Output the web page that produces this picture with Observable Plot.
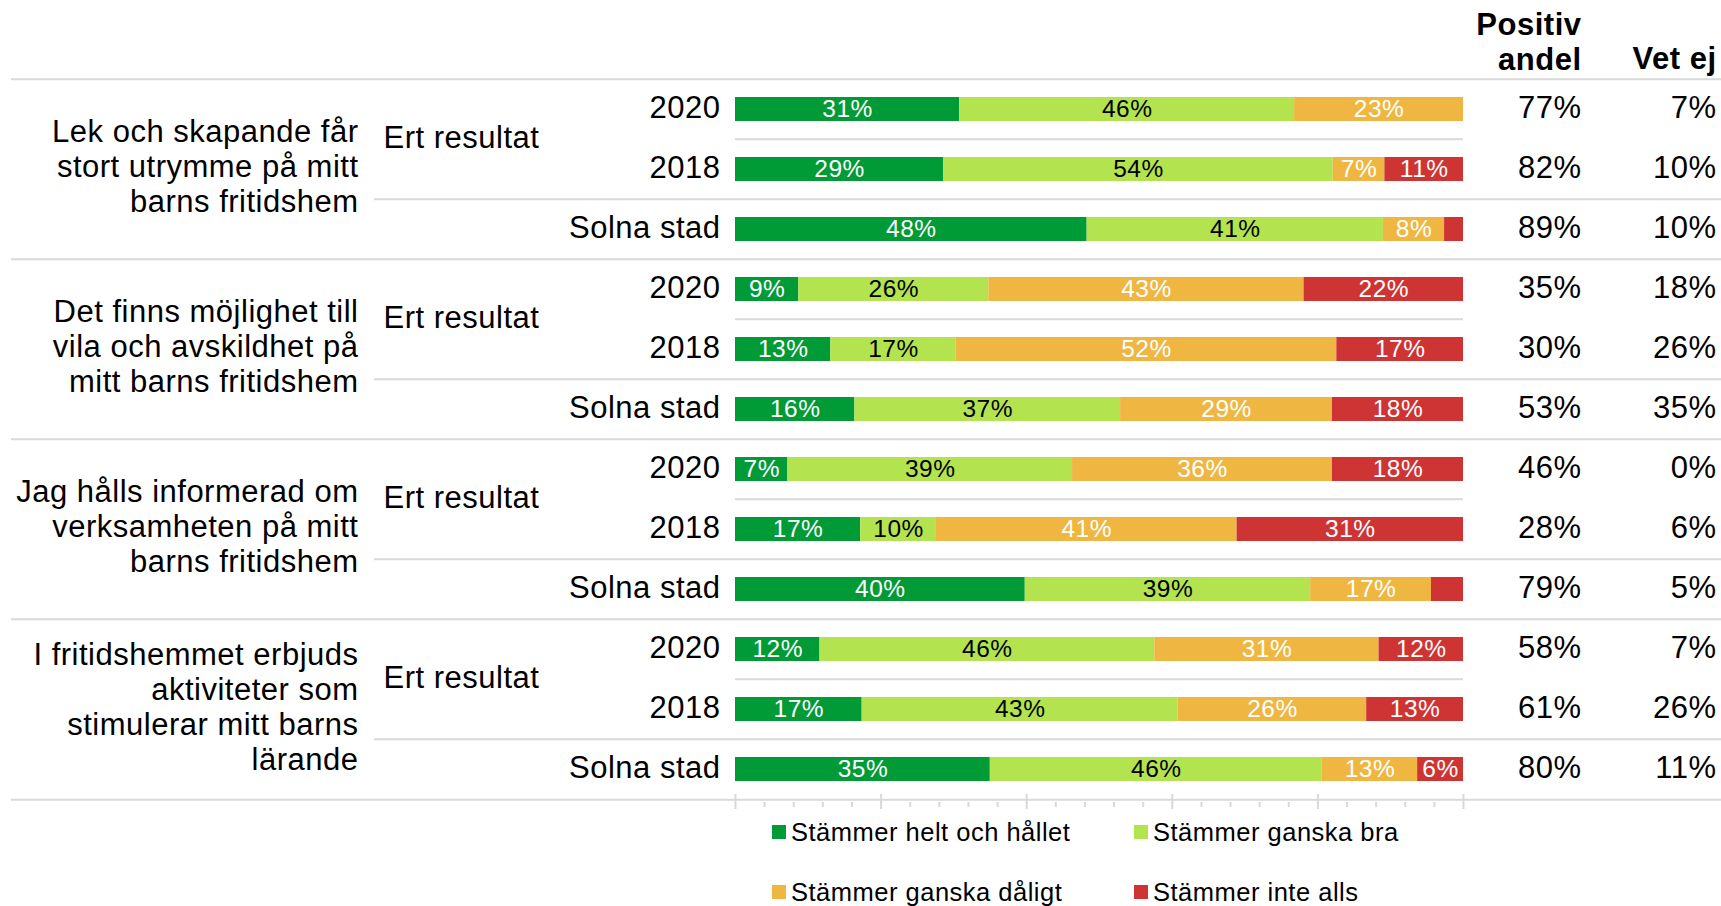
<!DOCTYPE html>
<html>
<head>
<meta charset="utf-8">
<script src="https://cdn.jsdelivr.net/npm/d3@7"></script>
<script src="https://cdn.jsdelivr.net/npm/@observablehq/plot@0.6"></script>
<style>
  body { margin: 0; background: #fff; font-family: "Liberation Sans", Arial, sans-serif; }
  #legend { position: relative; width: 1721px; height: 90px; }
  .item { position: absolute; display: flex; align-items: center; height: 30px; font-size: 25.5px; letter-spacing: 0.5px; color: #000; white-space: nowrap; }
  .sw { width: 14px; height: 14px; margin-right: 5px; }
  #chart svg text { letter-spacing: 0.5px; }
</style>
</head>
<body>
<div id="chart"></div>
<div id="legend"></div>
<script>
// ---- data ----
const questions = [
  "Lek och skapande får\nstort utrymme på mitt\nbarns fritidshem",
  "Det finns möjlighet till\nvila och avskildhet på\nmitt barns fritidshem",
  "Jag hålls informerad om\nverksamheten på mitt\nbarns fritidshem",
  "I fritidshemmet erbjuds\naktiviteter som\nstimulerar mitt barns\nlärande"
];
const groupLabel = "Ert resultat";
const seriesLabels = ["2020", "2018", "Solna stad"];
const categories = ["Stämmer helt och hållet", "Stämmer ganska bra", "Stämmer ganska dåligt", "Stämmer inte alls"];
const colors = ["#009A37", "#B3E44F", "#EFB641", "#CE3433"];
const headers = ["Positiv\nandel", "Vet ej"];

// values per row (question × series), in percent
const helt   = [30.8, 28.6, 48.3,   8.7, 13.1, 16.4,   7.2, 17.2, 39.8,  11.6, 17.4, 35.0];
const ganska = [46.0, 53.5, 40.7,  26.1, 17.2, 36.5,  39.1, 10.4, 39.2,  46.0, 43.4, 45.6];
const daligt = [23.2,  7.1,  8.4,  43.3, 52.3, 29.1,  35.7, 41.3, 16.6,  30.8, 25.9, 13.1];
const inte   = [ 0.0, 10.8,  2.6,  21.9, 17.4, 18.0,  18.0, 31.1,  4.4,  11.6, 13.3,  6.3];
const positiv = [77, 82, 89, 35, 30, 53, 46, 28, 79, 58, 61, 80];
const vetEj   = [7, 10, 10, 18, 26, 35, 0, 6, 5, 7, 26, 11];

// ---- build tables ----
const series = [helt, ganska, daligt, inte];
const rows = d3.range(questions.length * seriesLabels.length).map(i => ({row: i}));
const stacked = rows.flatMap(r => categories.map((c, k) => ({row: r.row, cat: c, value: series[k][r.row]})));

const W = 1721, H = 816, mT = 76, mB = 14, mL = 735, mR = 258;
const bw = (H - mT - mB) / rows.length;
const grid = "#d9d9d9";
const font = "'Liberation Sans', Arial, sans-serif";
const tdy = -1.5;

const chart = Plot.plot({
  width: W, height: H,
  marginTop: mT, marginBottom: mB, marginLeft: mL, marginRight: mR,
  style: {fontFamily: font, fontSize: "31px", color: "#000", background: "#fff"},
  x: {domain: [0, 100], axis: null},
  y: {type: "band", domain: rows.map(r => r.row), padding: 0, axis: null},
  color: {domain: categories, range: colors},
  marks: [
    // group separators (full width)
    Plot.ruleY(rows.filter(r => r.row % 3 === 0), {y: "row", dy: -bw / 2, stroke: grid, strokeWidth: 2, insetLeft: -(mL - 11), insetRight: -mR}),
    Plot.ruleY(rows.slice(-1), {y: "row", dy: bw / 2, stroke: grid, strokeWidth: 2, insetLeft: -(mL - 11), insetRight: -mR}),
    // separator above city row
    Plot.ruleY(rows.filter(r => r.row % 3 === 2), {y: "row", dy: -bw / 2, stroke: grid, strokeWidth: 2, insetLeft: -(mL - 374), insetRight: -mR}),
    // separator between years
    Plot.ruleY(rows.filter(r => r.row % 3 === 1), {y: "row", dy: -bw / 2, stroke: grid, strokeWidth: 2}),
    // ticks
    Plot.axisX(d3.range(0, 101, 4).filter(v => v % 20 !== 0), {anchor: "bottom", label: null, tickSize: 5, tickFormat: () => "", stroke: grid, strokeWidth: 2}),
    Plot.axisX(d3.range(0, 101, 20), {anchor: "bottom", label: null, tickSize: 15, dy: -8, tickFormat: () => "", stroke: grid, strokeWidth: 2}),
    // bars
    Plot.barX(stacked, {x: "value", y: "row", fill: "cat", insetTop: 18, insetBottom: 18}),
    Plot.text(stacked, Plot.stackX({x: "value", y: "row", z: "cat",
      text: d => d.cat !== categories[1] && d.value >= 5 ? Math.round(d.value) + "%" : "",
      fill: "white", fontSize: 24.5, dy: -0.5})),
    Plot.text(stacked, Plot.stackX({x: "value", y: "row", z: "cat",
      text: d => d.cat === categories[1] && d.value >= 5 ? Math.round(d.value) + "%" : "",
      fill: "black", fontSize: 24.5, dy: -0.5})),
    // row labels
    Plot.text(rows, {y: "row", text: d => seriesLabels[d.row % 3], frameAnchor: "left", dx: -15, dy: tdy, textAnchor: "end"}),
    Plot.text(questions, {y: (d, i) => i * 3, text: () => groupLabel, frameAnchor: "left", dx: 383 - mL, dy: bw / 2 - 2, textAnchor: "start"}),
    Plot.text(questions, {y: (d, i) => i * 3 + 1, text: d => d, frameAnchor: "left", dx: 358 - mL, dy: -3.5, textAnchor: "end", lineAnchor: "middle", lineHeight: 1.13}),
    // right-hand columns
    Plot.text(rows, {y: "row", text: d => positiv[d.row] + "%", frameAnchor: "right", dx: 118, dy: tdy, textAnchor: "end"}),
    Plot.text(rows, {y: "row", text: d => vetEj[d.row] + "%", frameAnchor: "right", dx: 253, dy: tdy, textAnchor: "end"}),
    Plot.text([headers[0]], {text: d => d, frameAnchor: "top-right", dx: 118, dy: -35, textAnchor: "end", lineAnchor: "middle", fontWeight: "bold", lineHeight: 1.13}),
    Plot.text([headers[1]], {text: d => d, frameAnchor: "top-right", dx: 253, dy: -17.5, textAnchor: "end", lineAnchor: "middle", fontWeight: "bold"})
  ]
});
document.getElementById("chart").appendChild(chart);

// legend
const legend = document.getElementById("legend");
categories.forEach((c, i) => {
  const item = document.createElement("div");
  item.className = "item";
  item.style.left = (772 + (i % 2) * 362) + "px";
  item.style.top = (1 + Math.floor(i / 2) * 60) + "px";
  const sw = document.createElement("span");
  sw.className = "sw";
  sw.style.background = colors[i];
  item.appendChild(sw);
  item.appendChild(document.createTextNode(c));
  legend.appendChild(item);
});
</script>
</body>
</html>
